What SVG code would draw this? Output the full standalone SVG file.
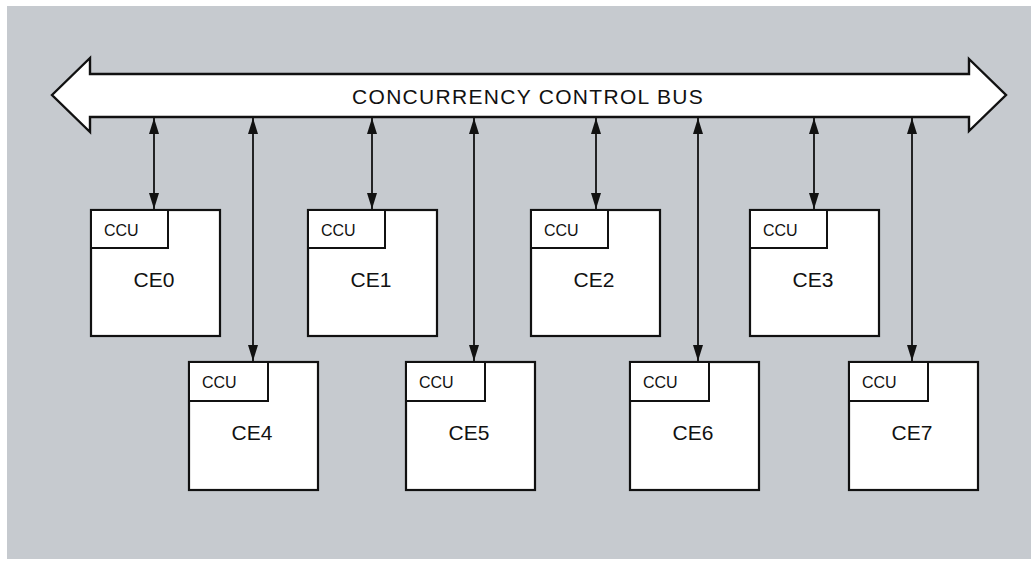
<svg xmlns="http://www.w3.org/2000/svg" width="1031" height="561" viewBox="0 0 1031 561">
<defs>
<style>
.box{fill:#fff;stroke:#111;stroke-width:2.2}
.ccu{fill:#fff;stroke:#111;stroke-width:2}
.lbl{font-family:"Liberation Sans",Arial,sans-serif;fill:#111}
.ce{font-size:21px;text-anchor:middle}
.cc{font-size:16px}
.link{stroke:#111;stroke-width:1.8;fill:none;marker-start:url(#ah);marker-end:url(#ah)}
</style>
<marker id="ah" viewBox="0 0 16 10" refX="16" refY="5" markerWidth="16" markerHeight="10" markerUnits="userSpaceOnUse" orient="auto-start-reverse">
<path d="M0,0 L16,5 L0,10 z" fill="#111"/>
</marker>
</defs>
<rect x="0" y="0" width="1031" height="561" fill="#fff"/>
<rect x="7" y="6" width="1024" height="553" fill="#c6cacf"/>
<g id="bus">
<path d="M52,95 L90,58 L90,74 L969,74 L969,59 L1006,95 L969,131 L969,117 L90,117 L90,132 Z" fill="#fff" stroke="#111" stroke-width="2.4" stroke-linejoin="miter"/>
<text class="lbl" x="528" y="104" font-size="21" text-anchor="middle" letter-spacing="1.3">CONCURRENCY CONTROL BUS</text>
</g>
<g id="connectors">
<path class="link" d="M154,118 V209"/>
<path class="link" d="M253,118 V361"/>
<path class="link" d="M372,118 V209"/>
<path class="link" d="M474,118 V361"/>
<path class="link" d="M596,118 V209"/>
<path class="link" d="M698,118 V361"/>
<path class="link" d="M814,118 V209"/>
<path class="link" d="M912,118 V361"/>
</g>
<g id="ce0"><rect class="box" x="91" y="210" width="129" height="126"/><rect class="ccu" x="91" y="210" width="77" height="38"/><text class="lbl cc" x="104" y="236">CCU</text><text class="lbl ce" x="154" y="287">CE0</text></g>
<g id="ce1"><rect class="box" x="308" y="210" width="129" height="126"/><rect class="ccu" x="308" y="210" width="77" height="38"/><text class="lbl cc" x="321" y="236">CCU</text><text class="lbl ce" x="371" y="287">CE1</text></g>
<g id="ce2"><rect class="box" x="531" y="210" width="129" height="126"/><rect class="ccu" x="531" y="210" width="77" height="38"/><text class="lbl cc" x="544" y="236">CCU</text><text class="lbl ce" x="594" y="287">CE2</text></g>
<g id="ce3"><rect class="box" x="750" y="210" width="129" height="126"/><rect class="ccu" x="750" y="210" width="77" height="38"/><text class="lbl cc" x="763" y="236">CCU</text><text class="lbl ce" x="813" y="287">CE3</text></g>
<g id="ce4"><rect class="box" x="189" y="362" width="129" height="128"/><rect class="ccu" x="189" y="362" width="79" height="39"/><text class="lbl cc" x="202" y="388">CCU</text><text class="lbl ce" x="252" y="440">CE4</text></g>
<g id="ce5"><rect class="box" x="406" y="362" width="129" height="128"/><rect class="ccu" x="406" y="362" width="79" height="39"/><text class="lbl cc" x="419" y="388">CCU</text><text class="lbl ce" x="469" y="440">CE5</text></g>
<g id="ce6"><rect class="box" x="630" y="362" width="129" height="128"/><rect class="ccu" x="630" y="362" width="79" height="39"/><text class="lbl cc" x="643" y="388">CCU</text><text class="lbl ce" x="693" y="440">CE6</text></g>
<g id="ce7"><rect class="box" x="849" y="362" width="129" height="128"/><rect class="ccu" x="849" y="362" width="79" height="39"/><text class="lbl cc" x="862" y="388">CCU</text><text class="lbl ce" x="912" y="440">CE7</text></g>
</svg>
